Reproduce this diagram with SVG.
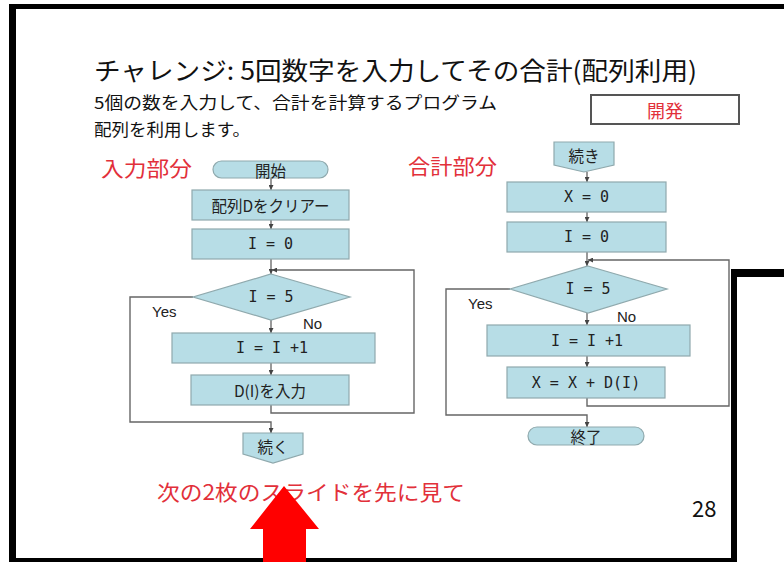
<svg xmlns="http://www.w3.org/2000/svg" width="784" height="562" viewBox="0 0 784 562">
<defs>
<style>
text{font-family:"Noto Sans CJK JP","Noto Sans",sans-serif;}
.box{fill:#b7dde6;stroke:#8fa9ad;stroke-width:1.2;}
.bt{font-size:15.5px;fill:#222;text-anchor:middle;dominant-baseline:central;}
.mono{font-family:"DejaVu Sans Mono","Liberation Mono",monospace;font-size:15px;}
.red{fill:#e2303a;}
.lbl{font-size:15px;fill:#222;font-family:"Liberation Sans","Noto Sans",sans-serif;}
.con{fill:none;stroke:#555;stroke-width:1.2;}
.loop{fill:none;stroke:#666;stroke-width:1.4;}
.frame{fill:#000;}
</style>
<marker id="ah" markerWidth="5" markerHeight="5" refX="5" refY="2.5" orient="auto" markerUnits="userSpaceOnUse">
<path d="M0,0 L5,2.5 L0,5 z" fill="#444"/>
</marker>
</defs>
<rect width="784" height="562" fill="#fff"/>

<!-- frame -->
<g id="frame">
<rect class="frame" x="9" y="4" width="775" height="5"/>
<rect class="frame" x="9" y="4" width="7" height="558"/>
<rect class="frame" x="9" y="558" width="728" height="4"/>
<rect class="frame" x="731" y="269" width="6" height="293"/>
<rect class="frame" x="731" y="269" width="53" height="8"/>
</g>

<!-- header texts -->
<g id="title">
<text x="94" y="80" font-size="25" fill="#111" textLength="603" lengthAdjust="spacingAndGlyphs">チャレンジ: 5回数字を入力してその合計(配列利用)</text>
</g>
<g id="subtitle">
<text x="94" y="109" font-size="16.5" fill="#111" textLength="403" lengthAdjust="spacingAndGlyphs">5個の数を入力して、合計を計算するプログラム</text>
<text x="94" y="136" font-size="16.5" fill="#111" textLength="156" lengthAdjust="spacingAndGlyphs">配列を利用します。</text>
</g>
<g id="kaihatsu">
<rect x="591" y="95" width="148" height="29" fill="#fff" stroke="#555" stroke-width="2"/>
<text class="red" x="665" y="109.5" font-size="18" text-anchor="middle" dominant-baseline="central">開発</text>
</g>
<g id="label-input">
<text class="red" x="101" y="176" font-size="21" textLength="91" lengthAdjust="spacingAndGlyphs">入力部分</text>
</g>
<g id="label-sum">
<text class="red" x="408" y="174" font-size="21" textLength="89" lengthAdjust="spacingAndGlyphs">合計部分</text>
</g>

<!-- connectors -->
<g id="connectors">
<path class="con" d="M271,178 V190" marker-end="url(#ah)"/>
<path class="con" d="M271,220 V229" marker-end="url(#ah)"/>
<path class="con" d="M271,259 V274" marker-end="url(#ah)"/>
<path class="con" d="M271,320 V333" marker-end="url(#ah)"/>
<path class="con" d="M271,363 V375" marker-end="url(#ah)"/>
<path class="loop" d="M271,405 V413 H414 V270 H272" marker-end="url(#ah)"/>
<path class="loop" d="M193,297 H130 V422 H271 V433" marker-end="url(#ah)"/>

<path class="con" d="M587,172 V182" marker-end="url(#ah)"/>
<path class="con" d="M587,212 V222" marker-end="url(#ah)"/>
<path class="con" d="M587,252 V266" marker-end="url(#ah)"/>
<path class="con" d="M587,313 V325" marker-end="url(#ah)"/>
<path class="con" d="M587,356 V367" marker-end="url(#ah)"/>
<path class="loop" d="M587,398 V406 H729 V260 H588" marker-end="url(#ah)"/>
<path class="loop" d="M510,289 H446 V415 H587 V427" marker-end="url(#ah)"/>
</g>

<!-- left flowchart -->
<g id="start">
<rect class="box" x="213" y="161" width="115" height="17" rx="8.5"/>
<text class="bt" x="270.5" y="169.5">開始</text>
</g>
<g id="clear">
<rect class="box" x="192" y="190" width="157" height="30"/>
<text class="bt" x="270.5" y="205">配列Dをクリアー</text>
</g>
<g id="i0-left">
<rect class="box" x="192" y="229" width="157" height="30"/>
<text class="bt mono" x="270.5" y="244">I = 0</text>
</g>
<g id="cond-left">
<polygon class="box" points="271,274 350,297 271,320 193,297"/>
<text class="bt mono" x="271" y="297">I = 5</text>
</g>
<g id="inc-left">
<rect class="box" x="172" y="333" width="203" height="30"/>
<text class="bt mono" x="272" y="348">I = I +1</text>
</g>
<g id="input">
<rect class="box" x="191" y="375" width="158" height="30"/>
<text class="bt" x="270" y="390">D(I)を入力</text>
</g>
<g id="cont-out">
<polygon class="box" points="243,433 303,433 303,454 273,463 243,454"/>
<text class="bt" x="273" y="446" font-size="14">続く</text>
</g>
<text class="lbl" x="152" y="317">Yes</text>
<text class="lbl" x="303" y="329">No</text>

<!-- right flowchart -->
<g id="cont-in">
<polygon class="box" points="554,142 614,142 614,165 584,172 554,165"/>
<text class="bt" x="584" y="155" font-size="14">続き</text>
</g>
<g id="x0">
<rect class="box" x="507" y="182" width="159" height="30"/>
<text class="bt mono" x="586.5" y="197">X = 0</text>
</g>
<g id="i0-right">
<rect class="box" x="507" y="222" width="159" height="30"/>
<text class="bt mono" x="586.5" y="237">I = 0</text>
</g>
<g id="cond-right">
<polygon class="box" points="588,266 667,289 588,313 510,289"/>
<text class="bt mono" x="588" y="289">I = 5</text>
</g>
<g id="inc-right">
<rect class="box" x="487" y="325" width="203" height="31"/>
<text class="bt mono" x="587" y="340.5">I = I +1</text>
</g>
<g id="sum">
<rect class="box" x="507" y="367" width="158" height="31"/>
<text class="bt mono" x="586" y="382.5">X = X + D(I)</text>
</g>
<g id="end">
<rect class="box" x="528" y="427" width="116" height="18" rx="9"/>
<text class="bt" x="586" y="436">終了</text>
</g>
<text class="lbl" x="468" y="309">Yes</text>
<text class="lbl" x="617" y="322">No</text>

<!-- footer -->
<g id="note">
<text class="red" x="157" y="500" font-size="21" textLength="308" lengthAdjust="spacingAndGlyphs">次の2枚のスライドを先に見て</text>
</g>
<g id="pagenum">
<text x="692" y="517" font-size="22" fill="#111" font-family="Liberation Sans, sans-serif">28</text>
</g>
<g id="arrow">
<polygon points="284,486 319,529 306,529 306,562 263,562 263,529 250,529" fill="#ff0000"/>
</g>
</svg>
